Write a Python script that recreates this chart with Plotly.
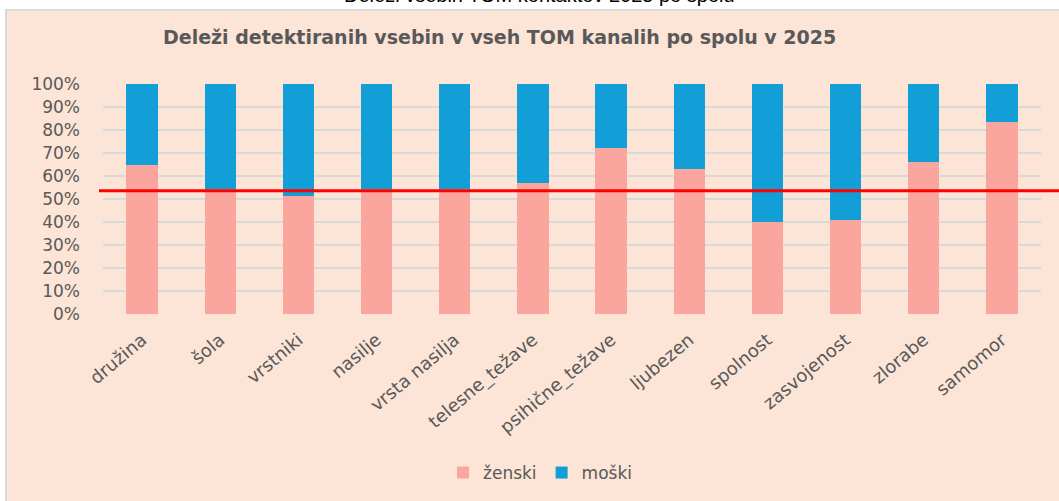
import plotly.graph_objects as go

categories = ["družina", "šola", "vrstniki", "nasilje", "vrsta nasilja", "telesne_težave",
              "psihične_težave", "ljubezen", "spolnost", "zasvojenost", "zlorabe", "samomor"]
zenski = [0.646, 0.543, 0.511, 0.545, 0.545, 0.570, 0.723, 0.632, 0.401, 0.410, 0.661, 0.835]
moski = [0.354, 0.457, 0.489, 0.455, 0.455, 0.430, 0.277, 0.368, 0.599, 0.590, 0.339, 0.165]
reference_share = 0.536
y_ticks = [0, 0.1, 0.2, 0.3, 0.4, 0.5, 0.6, 0.7, 0.8, 0.9, 1.0]

chart_title = "Deleži detektiranih vsebin v vseh TOM kanalih po spolu v 2025"
doc_caption = "Deleži vsebin TOM kontaktov 2025 po spolu"

W, H = 1059, 501
L, R, T, B = 103, 18, 84, 187
pw, ph = W - L - R, H - T - B

def px(x):
    return (x - L) / pw

def py(y):
    return (H - B - y) / ph

PEACH = "#FCE4D6"
GREY = "#595959"

fig = go.Figure()
fig.add_trace(go.Bar(x=categories, y=zenski, name="ženski", marker=dict(color="#FAA69E", line=dict(width=0))))
fig.add_trace(go.Bar(x=categories, y=moski, name="moški", marker=dict(color="#129ED6", line=dict(width=0))))

fig.update_layout(
    width=W, height=H,
    margin=dict(l=L, r=R, t=T, b=B, autoexpand=False),
    barmode="stack", bargap=0.6,
    paper_bgcolor="white", plot_bgcolor=PEACH,
    font=dict(family="DejaVu Sans", size=17, color=GREY),
    showlegend=True,
    legend=dict(orientation="h", x=px(540), y=py(473), xanchor="center", yanchor="middle",
                bgcolor="rgba(0,0,0,0)", font=dict(family="DejaVu Sans", size=17, color=GREY),
                traceorder="normal"),
    shapes=[
        dict(type="rect", xref="paper", yref="paper", x0=px(6), x1=px(1065), y0=py(506), y1=py(10),
             fillcolor=PEACH, line=dict(color="#D9D9D9", width=2), layer="below"),
        dict(type="line", xref="paper", yref="y", x0=px(99), x1=px(1065), y0=reference_share, y1=reference_share,
             line=dict(color="#FF0000", width=3), layer="above"),
    ],
    annotations=[
        dict(text="<b>" + chart_title + "</b>", xref="paper", yref="paper", x=px(499), y=py(37),
             xanchor="center", yanchor="middle", showarrow=False,
             font=dict(family="DejaVu Sans", size=19, color=GREY)),
        dict(text=doc_caption, xref="paper", yref="paper", x=px(539), y=py(-5),
             xanchor="center", yanchor="middle", showarrow=False,
             font=dict(family="Liberation Sans", size=20, color="black")),
    ],
)
fig.update_yaxes(range=[0, 1], tickvals=y_ticks, tickformat=".0%", showgrid=True,
                 gridcolor="#D9D9D9", gridwidth=1.5, zeroline=False, showline=False,
                 ticks="", ticklabelstandoff=22, tickfont=dict(size=17, color=GREY))
fig.update_xaxes(tickangle=-40, showgrid=False, showline=False, zeroline=False, ticks="",
                 ticklabelstandoff=11, tickfont=dict(size=18, color=GREY))

fig.write_html("out.html", config={"displayModeBar": False},
               post_script="document.body.style.margin='0';document.body.style.overflow='hidden';")
